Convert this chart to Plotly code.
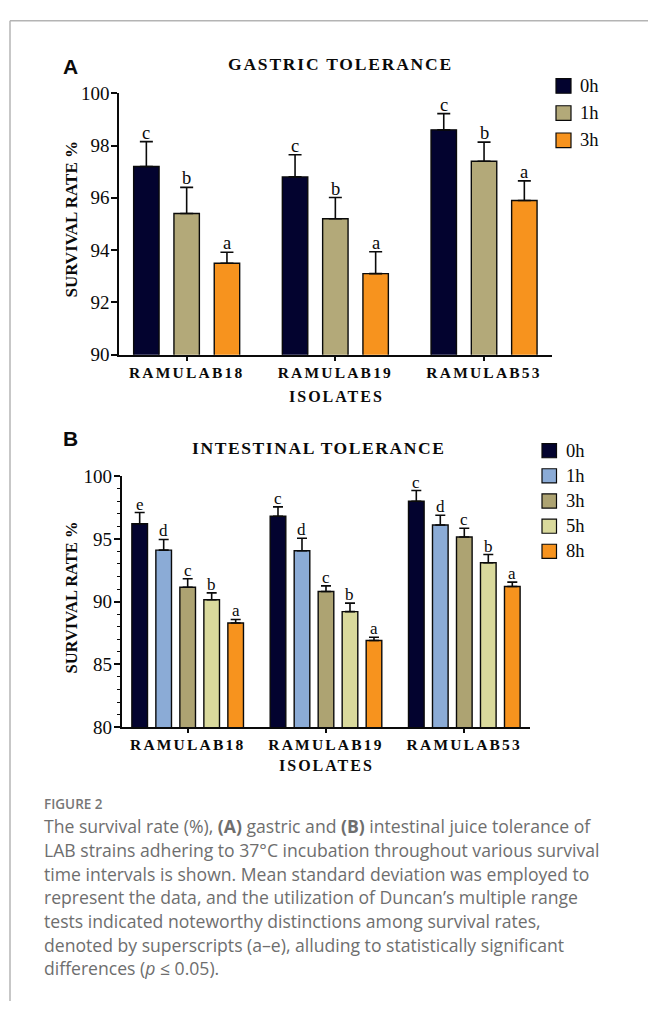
import plotly.graph_objects as go

# ---------------- data ----------------
isolates = ["RAMULAB18", "RAMULAB19", "RAMULAB53"]

# Panel A: gastric tolerance (survival %, mean and SD)
gastric_times = ["0h", "1h", "3h"]
gastric_0h = [97.2, 96.8, 98.6]
gastric_1h = [95.4, 95.2, 97.4]
gastric_3h = [93.5, 93.1, 95.9]
gastric_sd_0h = [0.95, 0.85, 0.62]
gastric_sd_1h = [1.0, 0.81, 0.73]
gastric_sd_3h = [0.42, 0.84, 0.75]
gastric_letters_0h = ["c", "c", "c"]
gastric_letters_1h = ["b", "b", "b"]
gastric_letters_3h = ["a", "a", "a"]

# Panel B: intestinal tolerance (survival %, mean and SD)
intestinal_times = ["0h", "1h", "3h", "5h", "8h"]
intestinal_0h = [96.2, 96.8, 98.0]
intestinal_1h = [94.1, 94.05, 96.1]
intestinal_3h = [91.15, 90.8, 95.15]
intestinal_5h = [90.15, 89.2, 93.1]
intestinal_8h = [88.3, 86.9, 91.2]
intestinal_sd_0h = [0.9, 0.75, 0.85]
intestinal_sd_1h = [0.85, 1.0, 0.78]
intestinal_sd_3h = [0.67, 0.45, 0.7]
intestinal_sd_5h = [0.55, 0.68, 0.65]
intestinal_sd_8h = [0.28, 0.26, 0.35]
intestinal_letters_0h = ["e", "c", "c"]
intestinal_letters_1h = ["d", "d", "d"]
intestinal_letters_3h = ["c", "c", "c"]
intestinal_letters_5h = ["b", "b", "b"]
intestinal_letters_8h = ["a", "a", "a"]

# ---------------- styling ----------------
W, H = 648, 1012
SERIF = "Liberation Serif, Times New Roman, serif"
SANS = "Liberation Sans, Arial, sans-serif"
INK = "#0a0a0a"
NAVY = "#03032f"
gastric_colors = [NAVY, "#b3a979", "#f7931e"]
intestinal_colors = [NAVY, "#8babd6", "#ada372", "#d9d99c", "#f7931e"]


def px_x(px):
    return px / W


def px_y(py):
    return 1 - py / H


def spaced(text, sp):
    return f'<span style="letter-spacing:{sp}px">{text}</span>'


fig = go.Figure()
annotations = []
shapes = []


def add_panel(xa, ya, times, means, sds, letters, colors, slot, bw, cap, letter_size):
    n = len(times)
    for i, t in enumerate(times):
        off = -n * slot / 2 + i * slot + (slot - bw) / 2
        fig.add_trace(go.Bar(
            x=isolates, y=means[i], name=t, width=bw, offset=off,
            marker=dict(color=colors[i], line=dict(color=INK, width=1.4)),
            error_y=dict(type="data", symmetric=False, array=sds[i],
                         arrayminus=[0] * len(isolates), color=INK,
                         thickness=1.6, width=cap),
            xaxis=xa, yaxis=ya, showlegend=False,
        ))
        for j in range(len(isolates)):
            annotations.append(dict(
                x=j + off + bw / 2, y=means[i][j] + sds[i][j],
                xref=xa, yref=ya, text=letters[i][j], showarrow=False,
                yanchor="bottom", xanchor="center", yshift=-3,
                font=dict(family=SERIF, size=letter_size, color=INK),
            ))


add_panel("x", "y", gastric_times,
          [gastric_0h, gastric_1h, gastric_3h],
          [gastric_sd_0h, gastric_sd_1h, gastric_sd_3h],
          [gastric_letters_0h, gastric_letters_1h, gastric_letters_3h],
          gastric_colors, slot=0.271, bw=0.171, cap=6.5, letter_size=18.5)

add_panel("x2", "y2", intestinal_times,
          [intestinal_0h, intestinal_1h, intestinal_3h, intestinal_5h, intestinal_8h],
          [intestinal_sd_0h, intestinal_sd_1h, intestinal_sd_3h, intestinal_sd_5h, intestinal_sd_8h],
          [intestinal_letters_0h, intestinal_letters_1h, intestinal_letters_3h,
           intestinal_letters_5h, intestinal_letters_8h],
          intestinal_colors, slot=0.1735, bw=0.113, cap=5, letter_size=17)

axis_common = dict(showline=True, linecolor=INK, linewidth=1.6,
                   ticks="outside", tickcolor=INK, tickwidth=1.6,
                   showgrid=False, zeroline=False)

tick_text = [spaced(c, 2.2) for c in isolates]
xtick_font = dict(family=SERIF, size=15.5, color=INK, weight="bold")
ytick_font = dict(family=SERIF, size=19, color=INK)

fig.update_layout(
    width=W, height=H, margin=dict(l=0, r=0, t=0, b=0),
    paper_bgcolor="white", plot_bgcolor="white", showlegend=False,
    xaxis=dict(domain=[px_x(119), px_x(552)], range=[-0.455, 2.457], type="category",
               tickvals=isolates, ticktext=tick_text, ticklen=5, tickfont=xtick_font,
               ticklabelstandoff=-2, anchor="y", **axis_common),
    yaxis=dict(domain=[px_y(352), px_y(85)], range=[90, 100], dtick=2, ticklen=6,
               tickfont=ytick_font, ticklabelstandoff=-2, anchor="x", **axis_common),
    xaxis2=dict(domain=[px_x(121.7), px_x(530)], range=[-0.477, 2.475], type="category",
                tickvals=isolates, ticktext=tick_text, ticklen=4, tickfont=xtick_font,
                ticklabelstandoff=-2, anchor="y2", **axis_common),
    yaxis2=dict(domain=[px_y(732.3), px_y(476)], range=[80, 100], dtick=5, ticklen=6,
                tickfont=ytick_font, ticklabelstandoff=-2,
                minor=dict(dtick=1, ticks="outside", ticklen=3, tickwidth=1.4,
                           tickcolor=INK),
                anchor="x2", **axis_common),
)


def paper_text(x, y, text, size, family=SERIF, color=INK, bold=False,
               xanchor="center", textangle=0, weight=None):
    annotations.append(dict(
        x=px_x(x), y=px_y(y), xref="paper", yref="paper", text=text,
        showarrow=False, xanchor=xanchor, yanchor="middle", textangle=textangle,
        font=dict(family=family, size=size, color=color,
                  weight=weight if weight else ("bold" if bold else "normal")),
    ))


# panel letters, titles and axis titles
paper_text(70.5, 58, "A", 21, family=SANS, bold=True)
paper_text(70.5, 438, "B", 21, family=SANS, bold=True)
paper_text(340, 55, spaced("GASTRIC TOLERANCE", 1.8), 17.5, bold=True)
paper_text(318.5, 447, spaced("INTESTINAL TOLERANCE", 1.6), 17.5, bold=True)
paper_text(72, 214, "SURVIVAL RATE %", 17, bold=True, textangle=-90)
paper_text(72, 600, "SURVIVAL RATE %", 16.5, bold=True, textangle=-90)
paper_text(336, 395, spaced("ISOLATES", 2), 16, bold=True)
paper_text(326, 772, spaced("ISOLATES", 2), 16, bold=True)


def add_legend(times, colors, x0, y_first, step, size, text_x):
    for i, (t, c) in enumerate(zip(times, colors)):
        yc = y_first + i * step
        shapes.append(dict(type="rect", xref="paper", yref="paper",
                           x0=px_x(x0), x1=px_x(x0 + size),
                           y0=px_y(yc + size / 2), y1=px_y(yc - size / 2),
                           fillcolor=c, line=dict(color=INK, width=1.2)))
        paper_text(text_x, yc, t, 18.5, xanchor="left")


add_legend(gastric_times, gastric_colors, 556, 77.5, 27.8, 15, 578)
add_legend(intestinal_times, intestinal_colors, 542, 450, 25.7, 14.5, 564)

# caption
CAP = "Open Sans, Lato, sans-serif"
GREY = "#6e6e6e"
caption_lines = [
    "The survival rate (%), <b>(A)</b> gastric and <b>(B)</b> intestinal juice tolerance of",
    "LAB strains adhering to 37°C incubation throughout various survival",
    "time intervals is shown. Mean standard deviation was employed to",
    "represent the data, and the utilization of Duncan’s multiple range",
    "tests indicated noteworthy distinctions among survival rates,",
    "denoted by superscripts (a–e), alluding to statistically significant",
    "differences (<i>p</i> ≤ 0.05).",
]
paper_text(42, 811, "FIGURE 2", 13.5, family=CAP, color="#777777", xanchor="left",
           weight=600)
for k, line in enumerate(caption_lines):
    paper_text(42, 833.5 + k * 24.2, line, 17.6, family=CAP, color=GREY, xanchor="left")

# frame lines along the top and left edges
shapes.append(dict(type="line", xref="paper", yref="paper",
                   x0=px_x(10), x1=1, y0=px_y(11), y1=px_y(11),
                   line=dict(color="#b4b4b4", width=1.5)))
shapes.append(dict(type="line", xref="paper", yref="paper",
                   x0=px_x(10), x1=px_x(10), y0=px_y(11), y1=0,
                   line=dict(color="#b4b4b4", width=1.5)))

fig.update_layout(annotations=annotations, shapes=shapes)
fig.write_html("out.html")
